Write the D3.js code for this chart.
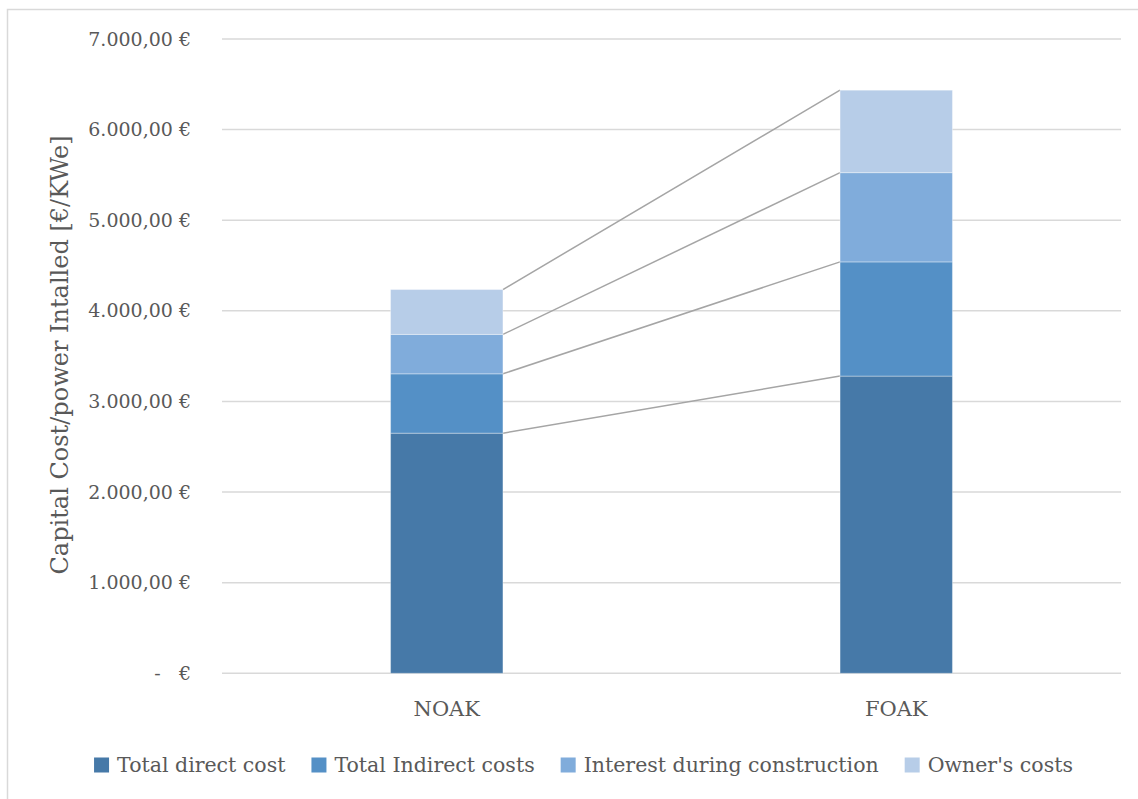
<!DOCTYPE html>
<html>
<head>
<meta charset="utf-8">
<script src="https://cdn.jsdelivr.net/npm/d3@7"></script>
<style>
  html, body { margin: 0; padding: 0; background: #fff; }
  svg text { font-family: "DejaVu Serif", "Liberation Serif", serif; fill: #595959; white-space: pre; }
</style>
</head>
<body>
<svg id="chart" width="1138" height="799"></svg>
<script>
// Capital cost per installed kWe, split by cost component
const categories = ["NOAK", "FOAK"];
const seriesNames = ["Total direct cost", "Total Indirect costs", "Interest during construction", "Owner's costs"];
const directCost = [2650, 3280];
const indirectCost = [655, 1260];
const interestCost = [435, 985];
const ownersCost = [495, 910];
const tickValues = [0, 1000, 2000, 3000, 4000, 5000, 6000, 7000];
const colors = ["#4679a8", "#5490c6", "#80acdb", "#b7cde8"];
const yTitle = "Capital Cost/power Intalled [€/KWe]";

const rows = categories.map((c, i) => ({
  cat: c,
  [seriesNames[0]]: directCost[i],
  [seriesNames[1]]: indirectCost[i],
  [seriesNames[2]]: interestCost[i],
  [seriesNames[3]]: ownersCost[i]
}));

const svg = d3.select("#chart");
const W = 1138, H = 799;
const plot = { left: 222, right: 1121, top: 39, bottom: 673.3 };

svg.append("rect").attr("width", W).attr("height", H).attr("fill", "#fff");
// outer chart frame
svg.append("rect")
  .attr("x", 7.5).attr("y", 9.5).attr("width", W + 20).attr("height", H + 20)
  .attr("fill", "none").attr("stroke", "#d9d9d9").attr("stroke-width", 1.5);

const x = d3.scaleBand().domain(categories).range([plot.left, plot.right]).padding(0);
const y = d3.scaleLinear().domain([0, 7000]).range([plot.bottom, plot.top]);
const barW = x.bandwidth() * 0.25;

const euro = v => {
  if (v === 0) return "-   €";
  const s = d3.format(",.2f")(v).replace(/,/g, "#").replace(".", ",").replace(/#/g, ".");
  return s + " €";
};

// gridlines
svg.append("g").selectAll("line").data(tickValues).join("line")
  .attr("x1", plot.left).attr("x2", plot.right)
  .attr("y1", d => y(d)).attr("y2", d => y(d))
  .attr("stroke", "#d9d9d9").attr("stroke-width", 1.5);

// y axis labels
const yAxis = d3.axisLeft(y).tickValues(tickValues).tickFormat(euro).tickSize(0).tickPadding(0);
const gy = svg.append("g").attr("transform", "translate(191,0)").call(yAxis);
gy.select(".domain").remove();
gy.selectAll("text").attr("font-size", 19).attr("font-family", null).attr("fill", "#595959");

const stack = d3.stack().keys(seriesNames)(rows);

// connector lines between stacked segment tops
stack.forEach(layer => {
  const a = layer[0], b = layer[1];
  svg.append("line")
    .attr("x1", x(categories[0]) + x.bandwidth() / 2 + barW / 2)
    .attr("y1", y(a[1]))
    .attr("x2", x(categories[1]) + x.bandwidth() / 2 - barW / 2)
    .attr("y2", y(b[1]))
    .attr("stroke", "#a5a5a5").attr("stroke-width", 1.5);
});

// stacked bars
stack.forEach((layer, k) => {
  svg.append("g").selectAll("rect").data(layer).join("rect")
    .attr("x", d => x(d.data.cat) + x.bandwidth() / 2 - barW / 2)
    .attr("width", barW)
    .attr("y", d => y(d[1]))
    .attr("height", d => y(d[0]) - y(d[1]))
    .attr("fill", colors[k])
    .attr("stroke", "#ffffff").attr("stroke-opacity", 0.35).attr("stroke-width", 1);
});

// category labels
const xAxis = d3.axisBottom(x).tickSize(0).tickPadding(0);
const gx = svg.append("g").attr("transform", "translate(0,709)").call(xAxis);
gx.select(".domain").remove();
gx.selectAll("text").attr("font-size", 21).attr("font-family", null).attr("fill", "#595959").attr("dy", "0.35em").attr("y", 0);

// y axis title
svg.append("text")
  .attr("transform", "translate(68,355) rotate(-90)")
  .attr("text-anchor", "middle")
  .attr("font-size", 24)
  .text(yTitle);

// legend
const legend = svg.append("g");
const sq = 15, gapText = 8, gapItem = 26;
let cx = 0;
seriesNames.forEach((n, i) => {
  const g = legend.append("g");
  g.append("rect").attr("x", 0).attr("y", -sq / 2).attr("width", sq).attr("height", sq).attr("fill", colors[i]);
  const t = g.append("text").attr("x", sq + gapText).attr("y", 0).attr("dy", "0.35em")
    .attr("font-size", 20.5).text(n);
  const w = sq + gapText + t.node().getComputedTextLength();
  g.attr("transform", `translate(${cx},0)`);
  cx += w + gapItem;
});
const totalW = cx - gapItem;
legend.attr("transform", `translate(${583.5 - totalW / 2},765)`);
</script>
</body>
</html>
